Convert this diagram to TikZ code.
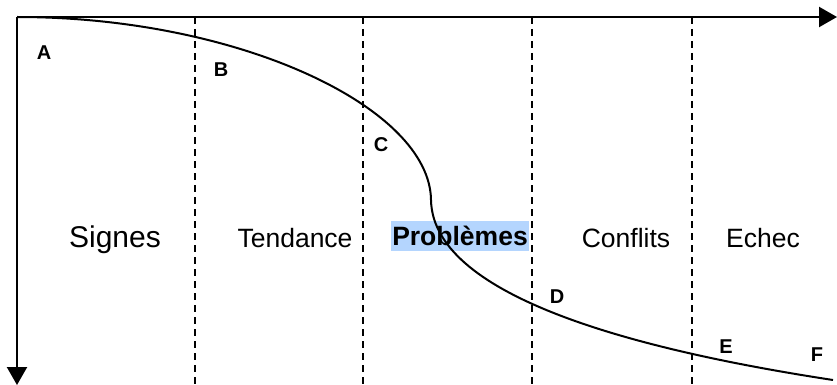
\documentclass[tikz,border=0pt]{standalone}
\usepackage{fontspec}
\setmainfont{Liberation Sans}
\usetikzlibrary{arrows.meta}
\definecolor{selBleu}{HTML}{B4D5FE}

\begin{document}
\begin{tikzpicture}[
  x=1pt, y=-1pt,
  >={Triangle[width=20pt,length=18pt]},
  axe/.style={line width=2.2pt},
  limite/.style={line width=1.8pt, dash pattern=on 7pt off 5pt},
  courbe/.style={line width=2pt},
  etape/.style={inner sep=1pt, font=\fontsize{26.5}{30}\selectfont},
  lettre/.style={inner sep=0pt, font=\bfseries\fontsize{20}{23}\selectfont}
]
  \useasboundingbox (0,0) rectangle (837,385);

  % Phases
  \node[etape, font=\fontsize{30}{34}\selectfont] (signes) at (115,240) {Signes};
  \node[etape] (tendance) at (295,238) {Tendance};
  \node[etape, fill=selBleu, minimum height=30pt, font=\bfseries\fontsize{26.5}{30}\selectfont] (problemes) at (460,236) {Problèmes};
  \node[etape] (conflits) at (626,238) {Conflits};
  \node[etape] (echec) at (763,238) {Echec};

  % Points
  \node[lettre] (ptA) at (44,53) {A};
  \node[lettre] (ptB) at (221,70) {B};
  \node[lettre] (ptC) at (381,145) {C};
  \node[lettre] (ptD) at (557,297) {D};
  \node[lettre] (ptE) at (726,347) {E};
  \node[lettre] (ptF) at (817,355) {F};

  % Axes
  \coordinate (origine) at (17,17);
  \coordinate (finX) at (837,17);
  \coordinate (finY) at (17,385);
  \draw[axe, ->] (origine) -- (finX);
  \draw[axe, ->] (origine) -- (finY);

  % Limites
  \foreach \nom/\x in {l1/195, l2/363, l3/532, l4/692} {
    \coordinate (\nom-h) at (\x,17);
    \coordinate (\nom-b) at (\x,385);
    \draw[limite] (\nom-h) -- (\nom-b);
  }

  % Courbe
  \coordinate (pivot) at (431,200);
  \coordinate (finCourbe) at (833,380);
  \draw[courbe] (origine) .. controls (240,17) and (430,108) .. (pivot)
    .. controls (433,300) and (650,352) .. (finCourbe);

\end{tikzpicture}
\end{document}
